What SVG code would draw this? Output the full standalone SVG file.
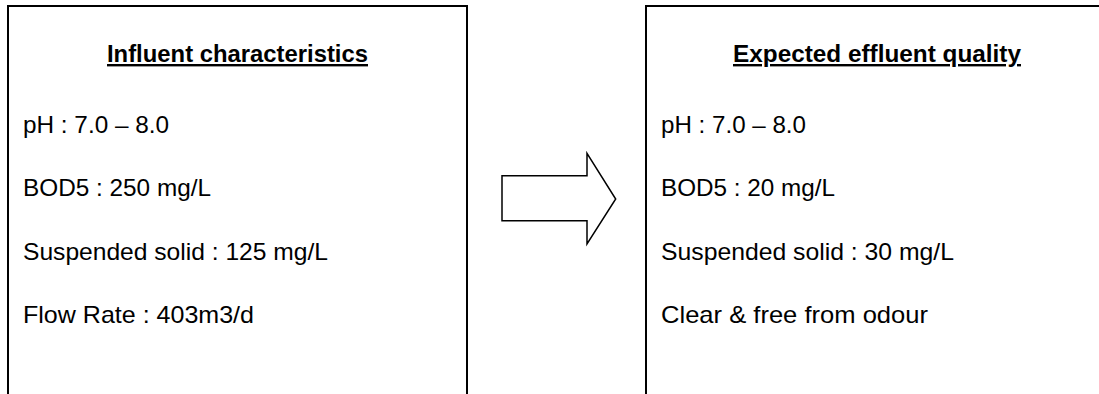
<svg xmlns="http://www.w3.org/2000/svg" width="1099" height="394" viewBox="0 0 1099 394">
  <style>
    .box { fill: #ffffff; stroke: #000000; stroke-width: 2; }
    .title { font-family: "Liberation Sans", Arial, sans-serif; font-size: 24px; font-weight: bold; text-decoration: underline; fill: #000000; }
    .body { font-family: "Liberation Sans", Arial, sans-serif; font-size: 24px; fill: #000000; }
    .arrow { fill: #ffffff; stroke: #000000; stroke-width: 1.5; stroke-linejoin: miter; }
  </style>
  <rect x="0" y="0" width="1099" height="394" fill="#ffffff"/>
  <g id="influent">
    <rect class="box" x="8" y="6" width="459" height="420"/>
    <text class="title" x="237.5" y="62" text-anchor="middle" textLength="261" lengthAdjust="spacingAndGlyphs">Influent characteristics</text>
    <text class="body" x="23" y="133" textLength="146" lengthAdjust="spacingAndGlyphs">pH : 7.0 – 8.0</text>
    <text class="body" x="23" y="196" textLength="188" lengthAdjust="spacingAndGlyphs">BOD5 : 250 mg/L</text>
    <text class="body" x="23" y="259.5" textLength="305" lengthAdjust="spacingAndGlyphs">Suspended solid : 125 mg/L</text>
    <text class="body" x="23" y="323" textLength="231" lengthAdjust="spacingAndGlyphs">Flow Rate : 403m3/d</text>
  </g>
  <g id="effluent">
    <rect class="box" x="646" y="6" width="462" height="420"/>
    <text class="title" x="877" y="62" text-anchor="middle" textLength="288" lengthAdjust="spacingAndGlyphs">Expected effluent quality</text>
    <text class="body" x="661" y="133" textLength="145" lengthAdjust="spacingAndGlyphs">pH : 7.0 – 8.0</text>
    <text class="body" x="661" y="196" textLength="174" lengthAdjust="spacingAndGlyphs">BOD5 : 20 mg/L</text>
    <text class="body" x="661" y="259.5" textLength="293" lengthAdjust="spacingAndGlyphs">Suspended solid : 30 mg/L</text>
    <text class="body" x="661" y="323" textLength="267" lengthAdjust="spacingAndGlyphs">Clear &amp; free from odour</text>
  </g>
  <g id="connectors">
    <polygon class="arrow" points="502,175.7 587,175.7 587,153.3 615.7,199 587,244 587,220.7 502,220.7"/>
  </g>
</svg>
